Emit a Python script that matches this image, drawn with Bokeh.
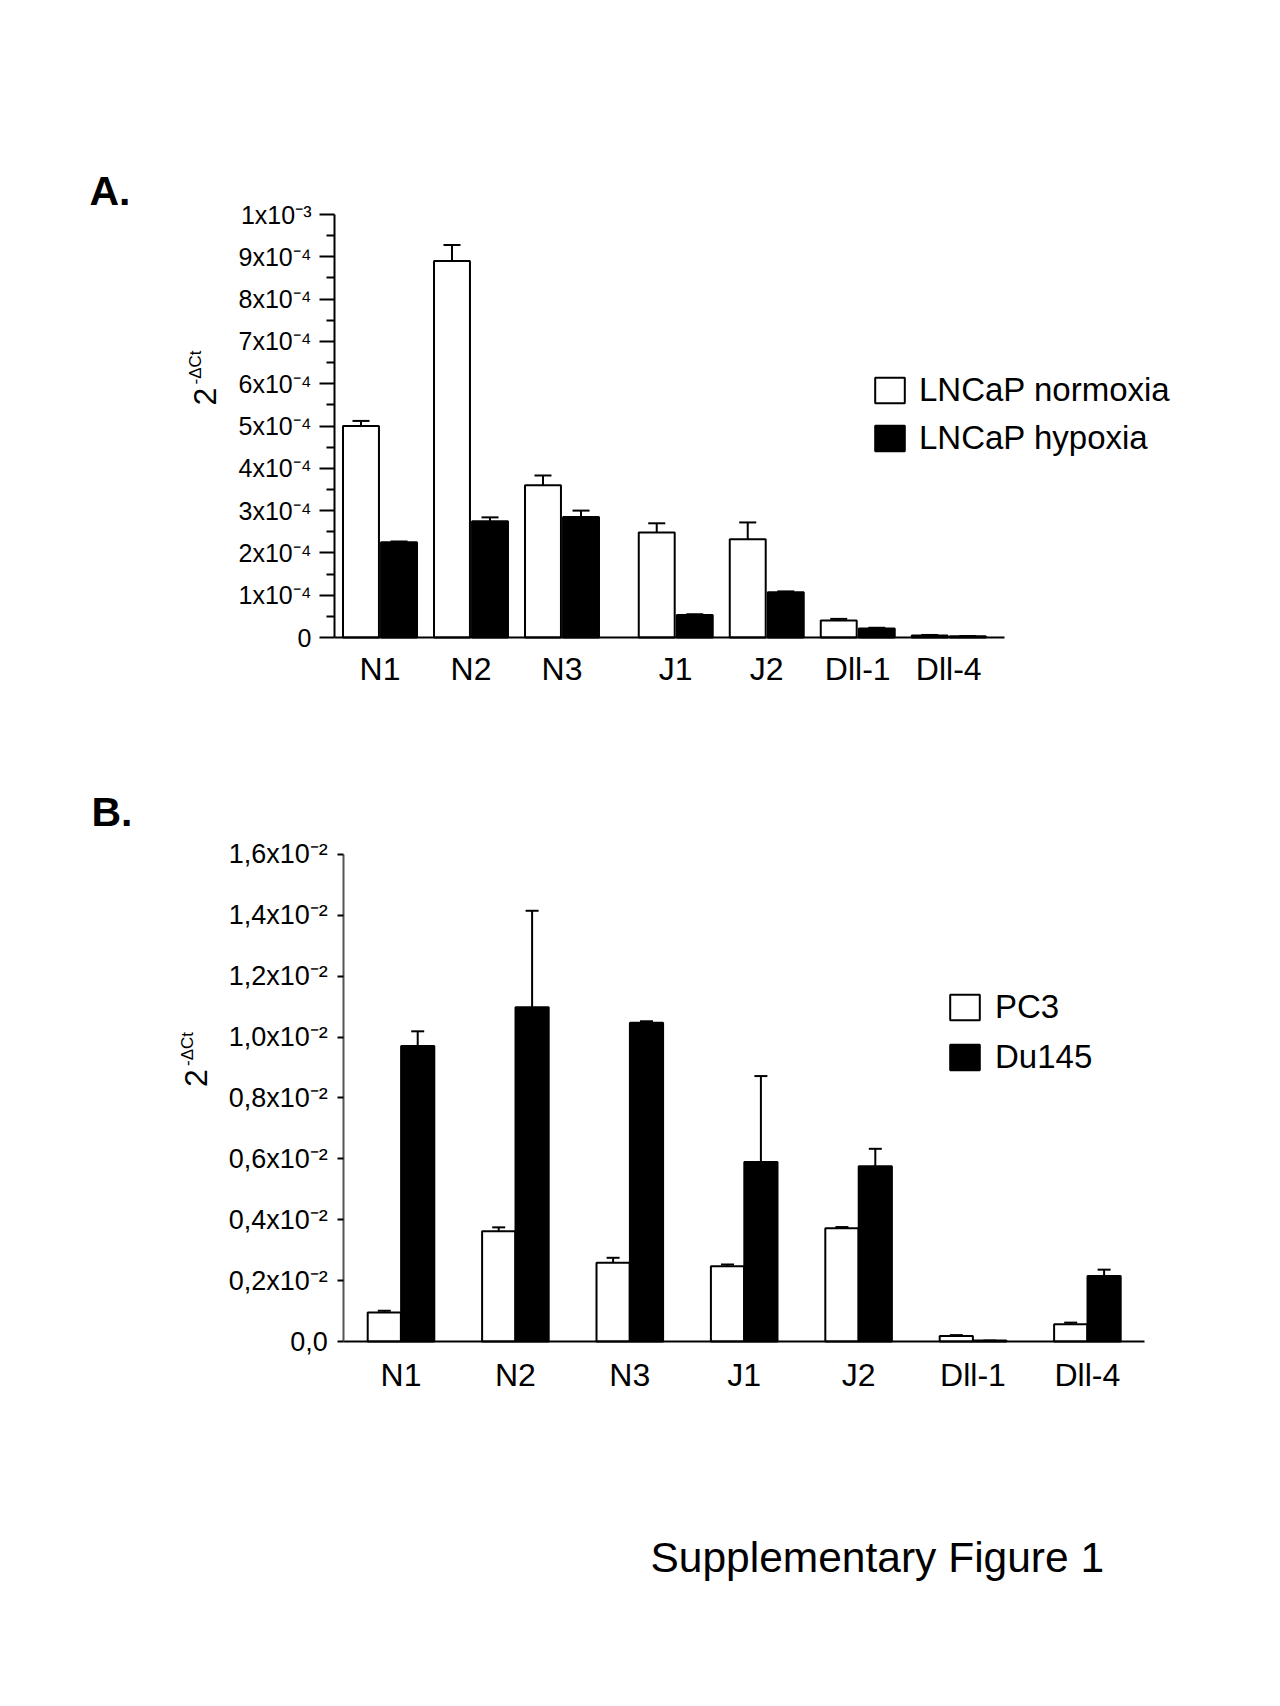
import math
from bokeh.plotting import figure
from bokeh.models import (ColumnDataSource, Range1d, FixedTicker,
                          Whisker, TeeHead, Legend, LegendItem, Label)
from bokeh.transform import dodge
from bokeh.layouts import column
from bokeh.embed import file_html
from bokeh.resources import INLINE

FONT = "Liberation Sans"

# ---------------- Panel A data (values in units of 1e-4) ----------------
genes_a = ["N1", "N2", "N3", "J1", "J2", "Dll-1", "Dll-4"]
family_a = ["receptor", "receptor", "receptor", "ligand", "ligand", "ligand", "ligand"]
normoxia = [5.0, 8.9, 3.6, 2.48, 2.32, 0.40, 0.05]
normoxia_err = [0.12, 0.38, 0.23, 0.22, 0.40, 0.04, 0.01]
hypoxia = [2.25, 2.75, 2.85, 0.53, 1.07, 0.21, 0.03]
hypoxia_err = [0.02, 0.09, 0.15, 0.02, 0.02, 0.02, 0.005]
a_ticks = [0, 1, 2, 3, 4, 5, 6, 7, 8, 9, 10]
a_tick_labels = ["0", "1x10\u207b\u2074", "2x10\u207b\u2074", "3x10\u207b\u2074",
                 "4x10\u207b\u2074", "5x10\u207b\u2074", "6x10\u207b\u2074",
                 "7x10\u207b\u2074", "8x10\u207b\u2074", "9x10\u207b\u2074",
                 "1x10\u207b\u00b3"]
a_series = ["LNCaP normoxia", "LNCaP hypoxia"]

# ---------------- Panel B data (values in units of 1e-2) ----------------
genes_b = ["N1", "N2", "N3", "J1", "J2", "Dll-1", "Dll-4"]
pc3 = [0.095, 0.362, 0.259, 0.247, 0.372, 0.018, 0.057]
pc3_err = [0.006, 0.013, 0.016, 0.006, 0.004, 0.003, 0.005]
du145 = [0.971, 1.098, 1.047, 0.590, 0.576, 0.003, 0.215]
du145_err = [0.048, 0.317, 0.005, 0.282, 0.057, 0.0, 0.021]
b_ticks = [0, 0.2, 0.4, 0.6, 0.8, 1.0, 1.2, 1.4, 1.6]
b_tick_labels = ["0,0", "0,2x10\u207b\u00b2", "0,4x10\u207b\u00b2", "0,6x10\u207b\u00b2",
                 "0,8x10\u207b\u00b2", "1,0x10\u207b\u00b2", "1,2x10\u207b\u00b2",
                 "1,4x10\u207b\u00b2", "1,6x10\u207b\u00b2"]
b_series = ["PC3", "Du145"]

ylabel_main = "2"
ylabel_sup = "-\u0394Ct"
caption = "Supplementary Figure 1"

# ---------------- layout constants (pixels / category units) ----------------
W = 1264
HA, HB = 740, 958
GAP_A = 0.25          # extra space between receptor and ligand groups in panel A


def positions(families, gap):
    pos, extra = [], 0.0
    for i, f in enumerate(families):
        if i > 0 and f != families[i - 1]:
            extra += gap
        pos.append(i + extra)
    return pos


def style(p):
    p.xgrid.grid_line_color = None
    p.ygrid.grid_line_color = None
    p.outline_line_color = None
    p.background_fill_color = "white"
    p.border_fill_color = "white"


def text(p, x, y, s, size, **kw):
    p.add_layout(Label(x=x, y=y, x_units="screen", y_units="screen", text=s,
                       text_font=FONT, text_font_size=size, text_color="black", **kw))


def ylab(p, x, y, xs, ys):
    text(p, x, y, ylabel_main, "32px", angle=math.pi / 2,
         text_align="left", text_baseline="alphabetic")
    text(p, xs, ys, ylabel_sup, "17px", angle=math.pi / 2,
         text_align="left", text_baseline="alphabetic")


def legend(p, renderers, labels, loc, spacing, standoff):
    p.add_layout(Legend(items=[LegendItem(label=l, renderers=[r])
                               for l, r in zip(labels, renderers)],
                        location=loc, glyph_width=37, glyph_height=32,
                        label_standoff=standoff, spacing=spacing, padding=0, margin=0,
                        border_line_color=None, background_fill_alpha=0,
                        label_text_font=FONT, label_text_font_size="33px",
                        label_text_color="black"))


# ======================= Panel A =======================
pos_a = positions(family_a, GAP_A)
uA = 91.0                 # px per category
x0A = 379.5               # canvas px of first category
yA0, pxA = 103.0, 42.3    # canvas px (from bottom) of y=0, px per unit
pA = figure(width=W, height=HA,
            x_range=Range1d(-x0A / uA, (W - x0A) / uA),
            y_range=Range1d(-yA0 / pxA, (HA - yA0) / pxA),
            output_backend="svg", toolbar_location=None,
            min_border_left=0, min_border_right=0, min_border_top=0, min_border_bottom=0)
style(pA)

srcA = ColumnDataSource(dict(
    x=pos_a, norm=normoxia, hyp=hypoxia,
    norm_up=[v + e for v, e in zip(normoxia, normoxia_err)],
    hyp_up=[v + e for v, e in zip(hypoxia, hypoxia_err)],
))
offA, wA = 0.209, 0.395
rA1 = pA.vbar(x=dodge("x", -offA), top="norm", width=wA, source=srcA,
              fill_color="white", line_color="black", line_width=2)
rA2 = pA.vbar(x=dodge("x", offA), top="hyp", width=wA, source=srcA,
              fill_color="black", line_color="black", line_width=2)
for off, lo, up in [(-offA, "norm", "norm_up"), (offA, "hyp", "hyp_up")]:
    pA.add_layout(Whisker(source=srcA, base=dodge("x", off), lower=lo, upper=up,
                          line_color="black", line_width=2, lower_head=None,
                          upper_head=TeeHead(size=17, line_color="black", line_width=2)))

ya = pA.yaxis[0]
ya.fixed_location = -0.5
ya.bounds = (a_ticks[0], a_ticks[-1])
ya.ticker = FixedTicker(ticks=a_ticks, minor_ticks=[t + 0.5 for t in a_ticks[:-1]])
ya.major_label_overrides = dict(zip(a_ticks, a_tick_labels))
ya.axis_line_width = 2
ya.axis_line_color = "black"
ya.major_tick_out, ya.major_tick_in = 15, 0
ya.minor_tick_out, ya.minor_tick_in = 8, 0
ya.major_tick_line_width = 2
ya.minor_tick_line_width = 2
ya.major_tick_line_color = "black"
ya.minor_tick_line_color = "black"
ya.major_label_standoff = 8
ya.major_label_text_font = FONT
ya.major_label_text_font_size = "25px"
ya.major_label_text_color = "black"

xa = pA.xaxis[0]
xa.fixed_location = 0
xa.bounds = (-0.5, 6.86)
xa.ticker = FixedTicker(ticks=pos_a, minor_ticks=[])
xa.major_label_overrides = dict(zip(pos_a, genes_a))
xa.axis_line_width = 2
xa.axis_line_color = "black"
xa.major_tick_out, xa.major_tick_in = 0, 0
xa.minor_tick_out, xa.minor_tick_in = 0, 0
xa.major_label_standoff = 13
xa.major_label_text_font = FONT
xa.major_label_text_font_size = "32px"
xa.major_label_text_color = "black"

legend(pA, [rA1, rA2], a_series, (871, 283), 10, 11)
text(pA, 89, 550, "A.", "41px", text_font_style="bold", text_baseline="middle")
ylab(pA, 204, 335, 195, 356)

# ======================= Panel B =======================
pos_b = positions(["all"] * len(genes_b), 0)
uB = 114.4
x0B = 400.5
yB0, pxB = 357.0, 304.4
pB = figure(width=W, height=HB,
            x_range=Range1d(-x0B / uB, (W - x0B) / uB),
            y_range=Range1d(-yB0 / pxB, (HB - yB0) / pxB),
            output_backend="svg", toolbar_location=None,
            min_border_left=0, min_border_right=0, min_border_top=0, min_border_bottom=0)
style(pB)

srcB = ColumnDataSource(dict(
    x=pos_b, pc3=pc3, du=du145,
    pc3_up=[v + e for v, e in zip(pc3, pc3_err)],
    du_up=[v + e for v, e in zip(du145, du145_err)],
))
offB, wB = 0.146, 0.29
rB1 = pB.vbar(x=dodge("x", -offB), top="pc3", width=wB, source=srcB,
              fill_color="white", line_color="black", line_width=2)
rB2 = pB.vbar(x=dodge("x", offB), top="du", width=wB, source=srcB,
              fill_color="black", line_color="black", line_width=2)
for off, lo, up in [(-offB, "pc3", "pc3_up"), (offB, "du", "du_up")]:
    pB.add_layout(Whisker(source=srcB, base=dodge("x", off), lower=lo, upper=up,
                          line_color="black", line_width=2, lower_head=None,
                          upper_head=TeeHead(size=13, line_color="black", line_width=2)))

yb = pB.yaxis[0]
yb.fixed_location = -0.5
yb.bounds = (b_ticks[0], b_ticks[-1])
yb.ticker = FixedTicker(ticks=b_ticks, minor_ticks=[])
yb.major_label_overrides = dict(zip(b_ticks, b_tick_labels))
yb.axis_line_width = 2
yb.axis_line_color = "#555555"
yb.major_tick_out, yb.major_tick_in = 6, 0
yb.minor_tick_out, yb.minor_tick_in = 0, 0
yb.major_tick_line_width = 2
yb.major_tick_line_color = "black"
yb.major_label_standoff = 10
yb.major_label_text_font = FONT
yb.major_label_text_font_size = "27px"
yb.major_label_text_color = "black"

xb = pB.xaxis[0]
xb.fixed_location = 0
xb.bounds = (-0.5, 6.5)
xb.ticker = FixedTicker(ticks=pos_b, minor_ticks=[])
xb.major_label_overrides = dict(zip(pos_b, genes_b))
xb.axis_line_width = 2
xb.axis_line_color = "black"
xb.major_tick_out, xb.major_tick_in = 0, 0
xb.minor_tick_out, xb.minor_tick_in = 0, 0
xb.major_label_standoff = 15
xb.major_label_text_font = FONT
xb.major_label_text_font_size = "32px"
xb.major_label_text_color = "black"

legend(pB, [rB1, rB2], b_series, (946, 622), 12, 12)
text(pB, 91, 887, "B.", "41px", text_font_style="bold", text_baseline="middle")
ylab(pB, 195.5, 611.5, 186.5, 632.5)
text(pB, 650, 141, caption, "42.5px", text_baseline="middle")

layout = column(pA, pB, spacing=0)
open("out.html", "w").write(file_html(layout, INLINE))
